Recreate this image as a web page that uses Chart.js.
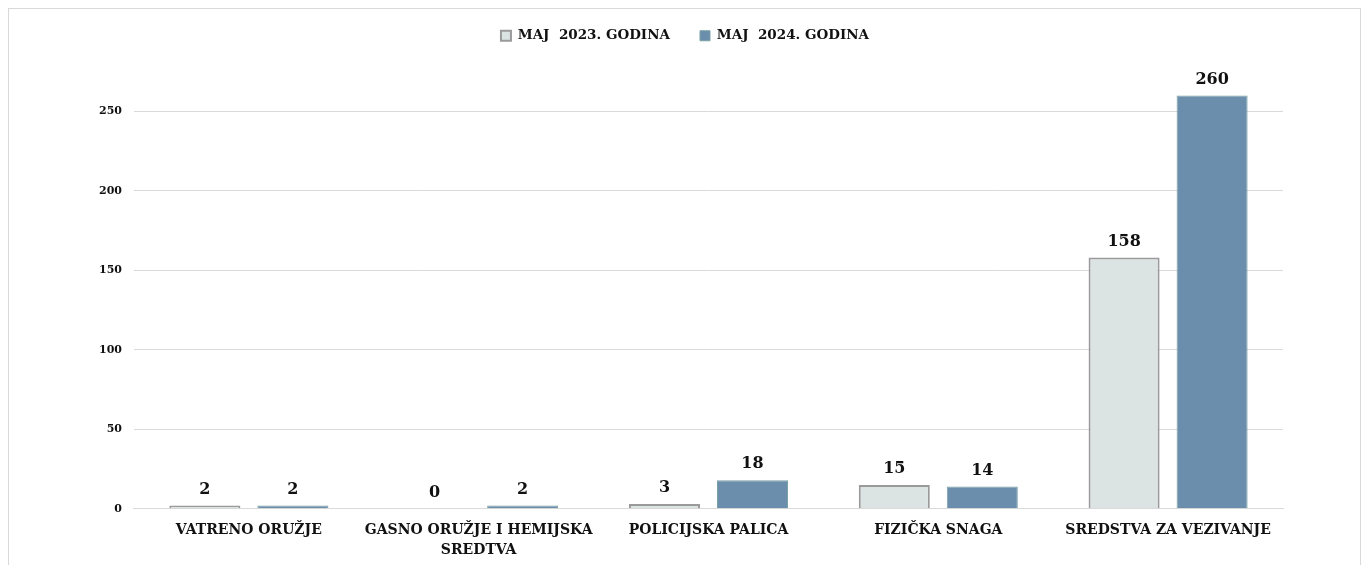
<!DOCTYPE html>
<html>
<head>
<meta charset="utf-8">
<script src="https://cdn.jsdelivr.net/npm/chart.js@4"></script>
<style>
  body { margin: 0; background: #fff; }
  #wrap { position: absolute; left: 8px; top: 8px; width: 1353px; height: 560px; border: 1px solid #d9d9d9; box-sizing: border-box; }
</style>
</head>
<body>
<div id="wrap"><canvas id="upotreba"></canvas></div>
<script>
// kategorije i vrijednosti
var kategorije = ["VATRENO ORUŽJE", ["GASNO ORUŽJE I HEMIJSKA", "SREDTVA"], "POLICIJSKA PALICA", "FIZIČKA SNAGA", "SREDSTVA ZA VEZIVANJE"];
var maj2023 = [2, 0, 3, 15, 158];
var maj2024 = [2, 2, 18, 14, 260];
var yTicks = [0, 50, 100, 150, 200, 250];

var font = "'DejaVu Serif', serif";

// vrijednosti iznad stubova
var oznake = {
  id: 'oznake',
  afterDatasetsDraw: function(chart) {
    var c = chart.ctx;
    c.save();
    c.font = "bold 16px " + font;
    c.fillStyle = "#111";
    c.textAlign = "center";
    c.textBaseline = "bottom";
    chart.data.datasets.forEach(function(ds, i) {
      chart.getDatasetMeta(i).data.forEach(function(bar, j) {
        c.fillText(ds.data[j], bar.x, bar.y - 8);
      });
    });
    c.restore();
  }
};

var ctx = document.getElementById("upotreba");
var myBarChart = new Chart(ctx, {
  type: 'bar',
  data: {
    labels: kategorije,
    datasets: [{
      label: "MAJ  2023. GODINA",
      data: maj2023,
      backgroundColor: "#dce3e3",
      borderColor: "#9a9a9a",
      borderWidth: 2,
      categoryPercentage: 0.766,
      barPercentage: 0.807
    }, {
      label: "MAJ  2024. GODINA",
      data: maj2024,
      backgroundColor: "#6b8ead",
      borderColor: "#7aa1a3",
      borderWidth: 1,
      categoryPercentage: 0.766,
      barPercentage: 0.807
    }]
  },
  options: {
    responsive: true,
    maintainAspectRatio: false,
    animation: false,
    layout: { padding: { left: 78, right: 77, top: -10, bottom: 3 } },
    plugins: {
      legend: {
        position: 'top',
        labels: {
          font: { family: font, size: 13.5, weight: 'bold' },
          color: "#111",
          boxWidth: 10,
          boxHeight: 10,
          padding: 30
        }
      },
      tooltip: { enabled: false }
    },
    scales: {
      x: {
        grid: { display: false },
        border: { color: "#d9d9d9" },
        ticks: {
          font: { family: font, size: 14, weight: 'bold', lineHeight: 1.4 },
          color: "#111",
          maxRotation: 0,
          autoSkip: false,
          padding: 4
        }
      },
      y: {
        min: 0,
        max: 287,
        afterBuildTicks: function(axis) {
          axis.ticks = yTicks.map(function(v) { return { value: v }; });
        },
        grid: { color: "#d9d9d9", drawTicks: false },
        border: { display: false },
        ticks: {
          font: { family: font, size: 11, weight: 'bold' },
          color: "#111",
          padding: 12
        }
      }
    }
  },
  plugins: [oznake]
});
</script>
</body>
</html>
